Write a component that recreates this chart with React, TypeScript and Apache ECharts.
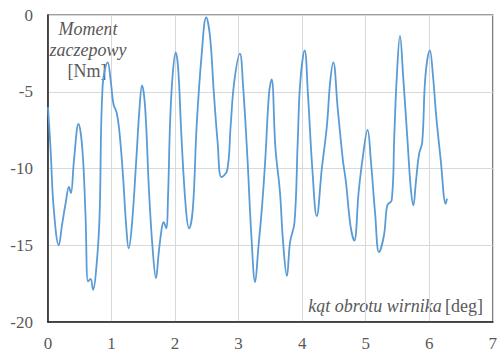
import React, { useEffect, useRef } from "react";
import * as echarts from "echarts";

const angle: number[] = [
  0, 0.04, 0.09, 0.17, 0.22, 0.28, 0.33, 0.36, 0.41, 0.48, 0.54, 0.59, 0.63, 0.67, 0.71, 0.76, 0.81, 0.86, 0.94,
  0.99, 1.03, 1.08, 1.125, 1.18, 1.23, 1.27, 1.32, 1.39, 1.44, 1.48, 1.53, 1.59, 1.65, 1.7,
  1.74, 1.79, 1.82, 1.86, 1.89, 1.92, 1.96, 2.01, 2.05, 2.1, 2.17, 2.22, 2.28, 2.34, 2.42, 2.49, 2.55,
  2.61, 2.67, 2.73, 2.82, 2.875, 2.93, 3.02, 3.07, 3.14, 3.2, 3.26, 3.31, 3.37, 3.42, 3.48, 3.52,
  3.58, 3.65, 3.7, 3.76, 3.81, 3.88, 3.93, 3.97, 4.04, 4.09, 4.16, 4.23, 4.31, 4.39, 4.44, 4.49,
  4.56, 4.64, 4.69, 4.76, 4.82, 4.89, 4.95, 5.03, 5.08, 5.15, 5.21, 5.29, 5.34, 5.41, 5.45, 5.49, 5.54,
  5.59, 5.66, 5.71, 5.75, 5.79, 5.84, 5.89, 5.94, 6.01, 6.06, 6.11, 6.18, 6.26, 6.28,
];

const moment: number[] = [
  -6.0, -8.7, -12.6, -15.0, -13.7, -12.2, -11.2, -11.6, -9.4, -7.1, -8.7, -13.0, -17.35, -17.2, -17.9, -16.5, -13.3, -4.6, -3.08,
  -4.4, -5.8, -6.35, -7.65, -10.45, -13.7, -15.2, -13.7, -9.4, -6.1, -4.59, -6.1, -11.5, -15.4, -17.15,
  -15.6, -13.9, -13.5, -13.9, -11.7, -7.2, -4.0, -2.43, -3.55, -7.9, -12.6, -13.9, -12.6, -7.2, -2.5, -0.15, -1.4,
  -5.06, -8.3, -10.56, -10.13, -7.2, -4.4, -2.52, -4.6, -9.4, -14.3, -17.4, -15.2, -12.4, -9.4, -5.06, -4.2,
  -8.7, -11.5, -14.8, -17.0, -14.8, -13.5, -8.3, -4.4, -2.3, -5.06, -10.0, -13.1, -10.0, -7.2, -4.4, -3.08,
  -6.1, -9.4, -10.9, -13.7, -14.7, -11.5, -9.4, -7.48, -9.4, -13.0, -15.45, -14.3, -12.4, -12.07, -7.9, -4.0, -1.36,
  -4.0, -8.3, -11.3, -12.4, -10.9, -9.05, -8.3, -4.0, -2.3, -4.0, -6.57, -9.4, -12.3, -11.96,
];

const yTitleLines: string[] = ["Moment", "zaczepowy", "[Nm]"];
const xTitleItalic = "kąt obrotu wirnika";
const xTitleUnit = "[deg]";

export default function App() {
  const ref = useRef<HTMLDivElement>(null);
  useEffect(() => {
    if (!ref.current) return;
    const chart = echarts.init(ref.current, undefined, { renderer: "svg" });
    const serif = "'Times New Roman', 'Liberation Serif', serif";
    const gray = "#595959";
    chart.setOption({
      animation: false,
      textStyle: { fontFamily: serif },
      grid: {
        left: 48,
        right: 4,
        top: 15,
        bottom: 28,
        show: true,
        borderColor: "#7f7f7f",
        borderWidth: 1.5,
        backgroundColor: "transparent",
      },
      xAxis: {
        type: "value",
        min: 0,
        max: 7,
        interval: 1,
        axisLine: { show: true, onZero: false, lineStyle: { color: "#222", width: 1.5 } },
        axisTick: { show: false },
        axisLabel: { color: gray, fontFamily: serif, fontSize: 17, margin: 13 },
        splitLine: { show: true, lineStyle: { color: "#d9d9d9", width: 1 } },
      },
      yAxis: {
        type: "value",
        min: -20,
        max: 0,
        interval: 5,
        axisLine: { show: true, onZero: false, lineStyle: { color: "#222", width: 1.5 } },
        axisTick: { show: false },
        axisLabel: { color: gray, fontFamily: serif, fontSize: 17, margin: 15 },
        splitLine: { show: true, lineStyle: { color: "#d9d9d9", width: 1 } },
      },
      series: [
        {
          type: "line",
          data: angle.map((a, i) => [a, moment[i]]),
          smooth: 0.4,
          showSymbol: false,
          symbol: "none",
          lineStyle: { color: "#5b9bd5", width: 1.8 },
        },
      ],
      graphic: [
        {
          type: "text",
          x: 88,
          y: 29,
          style: {
            text: yTitleLines[0],
            fontFamily: serif,
            fontStyle: "italic",
            fontSize: 18,
            fill: gray,
            align: "center",
            verticalAlign: "middle",
          },
        },
        {
          type: "text",
          x: 88,
          y: 50,
          style: {
            text: yTitleLines[1],
            fontFamily: serif,
            fontStyle: "italic",
            fontSize: 18,
            fill: gray,
            align: "center",
            verticalAlign: "middle",
          },
        },
        {
          type: "text",
          x: 87,
          y: 71,
          style: {
            text: yTitleLines[2],
            fontFamily: serif,
            fontSize: 18,
            fill: gray,
            align: "center",
            verticalAlign: "middle",
          },
        },
        {
          type: "text",
          x: 483,
          y: 306,
          style: {
            text: "{i|" + xTitleItalic + "} {n|" + xTitleUnit + "}",
            align: "right",
            verticalAlign: "middle",
            rich: {
              i: { fontFamily: serif, fontStyle: "italic", fontSize: 18, fill: gray, color: gray },
              n: { fontFamily: serif, fontSize: 18, fill: gray, color: gray },
            },
          },
        },
      ],
    });
    return () => chart.dispose();
  }, []);
  return <div ref={ref} style={{ width: 500, height: 352, position: "absolute", left: 0, top: 0 }} />;
}
